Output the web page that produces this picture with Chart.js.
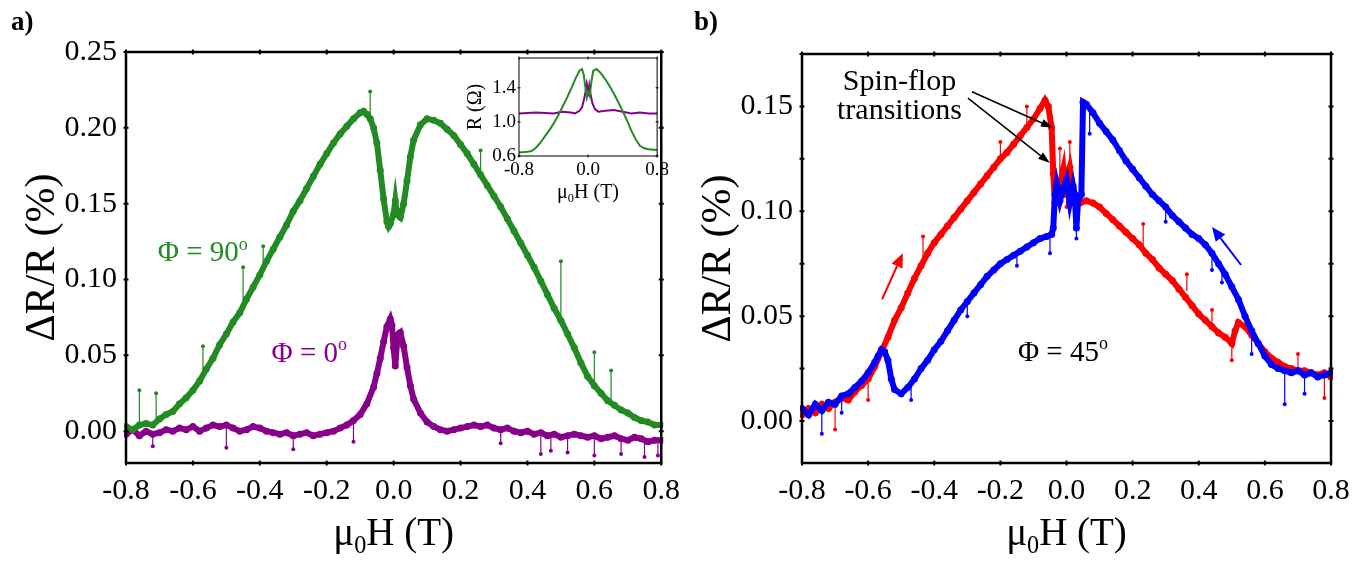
<!DOCTYPE html>
<html>
<head>
<meta charset="utf-8">
<script src="https://cdn.jsdelivr.net/npm/chart.js@4.4.0/dist/chart.umd.min.js"></script>
<style>
  html, body { margin: 0; padding: 0; background: #fff; }
  #wrap { position: relative; width: 1370px; height: 561px; overflow: hidden; }
  .box { position: absolute; }
  .tag { position: absolute; font: bold 27px 'Liberation Serif', serif; line-height: 1; }
</style>
</head>
<body>
<div id="wrap">
  <div class="box" style="left:0;top:0"><canvas id="chartA" width="690" height="561"></canvas></div>
  <div class="box" style="left:690px;top:0"><canvas id="chartB" width="680" height="561"></canvas></div>
  <div class="box" style="left:460px;top:40px"><canvas id="chartInset" width="212" height="180"></canvas></div>
  <div class="tag" style="left:11px;top:8px">a)</div>
  <div class="tag" style="left:694px;top:8px">b)</div>
</div>
<script>
var FONT = "'Liberation Serif', 'Times New Roman', serif";
var GREEN = '#238b23';
var PURPLE = '#86008a';
var RED = '#ff0000';
var BLUE = '#0000ff';

// shared x axis (mu0 H in tesla)
var fieldTicks = [-0.8, -0.6, -0.4, -0.2, 0, 0.2, 0.4, 0.6, 0.8];
var fieldLabels = ['-0.8', '-0.6', '-0.4', '-0.2', '0.0', '0.2', '0.4', '0.6', '0.8'];

// panel a, y axis
var aTicks = [0, 0.05, 0.1, 0.15, 0.2, 0.25];
var aLabels = ['0.00', '0.05', '0.10', '0.15', '0.20', '0.25'];

// panel a, phi = 90 deg
var phi90H = [-0.8,-0.78,-0.76,-0.74,-0.72,-0.7,-0.68,-0.66,-0.64,-0.62,-0.6,-0.58,-0.56,-0.54,-0.52,-0.5,-0.48,-0.46,-0.44,-0.42,-0.4,-0.38,-0.36,-0.34,-0.32,-0.3,-0.28,-0.26,-0.24,-0.22,-0.2,-0.18,-0.16,-0.14,-0.12,-0.1,
  -0.09,-0.08,-0.07,-0.06,-0.05,-0.04,-0.03,-0.02,-0.015,-0.01,
  0,0.005,0.01,0.02,0.03,0.04,0.05,0.06,
  0.08,0.1,0.12,0.14,0.16,0.18,0.2,0.22,0.24,0.26,0.28,0.3,0.32,0.34,0.36,0.38,0.4,0.42,0.44,0.46,0.48,0.5,0.52,0.54,0.56,0.58,0.6,0.62,0.64,0.66,0.68,0.7,0.72,0.74,0.76,0.78,0.8];
var phi90R = [0.003,0.001,0.004,0.005,0.004,0.008,0.011,0.013,0.018,0.022,0.027,0.033,0.041,0.048,0.057,0.064,0.072,0.078,0.087,0.095,0.103,0.112,0.12,0.128,0.136,0.145,0.152,0.16,0.168,0.176,0.183,0.19,0.196,0.201,0.206,0.21,
  0.211,0.209,0.206,0.2,0.19,0.172,0.153,0.138,0.135,0.137,
  0.143,0.152,0.143,0.141,0.15,0.165,0.181,0.192,
  0.202,0.206,0.205,0.203,0.199,0.195,0.189,0.183,0.176,0.169,0.162,0.155,0.148,0.14,0.132,0.124,0.116,0.108,0.099,0.09,0.081,0.073,0.064,0.055,0.045,0.036,0.03,0.025,0.02,0.017,0.014,0.012,0.009,0.007,0.006,0.004,0.004];
var phi90SpikeH = [-0.76, -0.71, -0.57, -0.45, -0.39, -0.07, 0.26, 0.5, 0.6, 0.65];
var phi90SpikeBase = [0.004, 0.007, 0.036, 0.082, 0.106, 0.206, 0.169, 0.073, 0.03, 0.019];
var phi90SpikeTip = [0.027, 0.025, 0.056, 0.108, 0.122, 0.224, 0.185, 0.112, 0.052, 0.04];

// panel a, phi = 0 deg
var phi0H = [-0.8,-0.78,-0.76,-0.74,-0.72,-0.7,-0.68,-0.66,-0.64,-0.62,-0.6,-0.58,-0.56,-0.54,-0.52,-0.5,-0.48,-0.46,-0.44,-0.42,-0.4,-0.38,-0.36,-0.34,-0.32,-0.3,-0.28,-0.26,-0.24,-0.22,-0.2,-0.18,-0.16,-0.14,-0.12,-0.1,
  -0.08,-0.06,-0.05,-0.04,-0.03,-0.02,-0.01,-0.005,0,0.005,0.01,0.015,0.02,0.03,0.04,0.05,0.06,
  0.08,0.1,0.12,0.14,0.16,0.18,0.2,0.22,0.24,0.26,0.28,0.3,0.32,0.34,0.36,0.38,0.4,0.42,0.44,0.46,0.48,0.5,0.52,0.54,0.56,0.58,0.6,0.62,0.64,0.66,0.68,0.7,0.72,0.74,0.76,0.78,0.8];
var phi0R = [-0.002,0.001,-0.003,0,-0.002,-0.001,0.001,0,0.002,0.001,0.003,0,0.002,0.004,0.003,0.004,0.002,0,0.001,0.003,0.002,0,-0.001,-0.002,-0.001,-0.003,-0.002,-0.001,-0.003,-0.002,-0.001,0,0.002,0.004,0.007,0.011,
  0.018,0.029,0.038,0.048,0.059,0.069,0.074,0.07,0.055,0.043,0.058,0.064,0.065,0.056,0.042,0.03,0.021,
  0.012,0.006,0.003,0.001,0,0.001,0.002,0.003,0.004,0.003,0.004,0.002,0.001,0.002,0,-0.001,0,-0.002,-0.001,-0.003,-0.002,-0.004,-0.003,-0.002,-0.003,-0.004,-0.003,-0.005,-0.004,-0.003,-0.005,-0.006,-0.004,-0.005,-0.007,-0.006,-0.006];
var phi0SpikeH = [-0.72, -0.5, -0.3, -0.12, 0.32, 0.44, 0.47, 0.52, 0.6, 0.68, 0.75, 0.79];
var phi0SpikeBase = [-0.002, 0.004, -0.003, 0.007, 0.001, -0.001, -0.002, -0.003, -0.003, -0.005, -0.005, -0.006];
var phi0SpikeTip = [-0.01, -0.011, -0.012, -0.007, -0.008, -0.015, -0.013, -0.014, -0.016, -0.015, -0.017, -0.016];

// inset: R (ohm)
var insetTicksY = [0.6, 1.0, 1.4];
var insetLabelsY = ['0.6', '1.0', '1.4'];
var insetTicksX = [-0.8, 0, 0.8];
var insetLabelsX = ['-0.8', '0.0', '0.8'];
var insetH90 = [-0.8,-0.7,-0.65,-0.6,-0.55,-0.5,-0.45,-0.4,-0.35,-0.3,-0.25,-0.2,-0.15,-0.1,-0.07,-0.05,-0.03,-0.015,0,0.01,0.02,0.04,0.06,0.1,0.15,0.2,0.25,0.3,0.35,0.4,0.45,0.5,0.55,0.6,0.65,0.7,0.8];
var insetR90 = [0.64,0.65,0.66,0.7,0.76,0.83,0.9,0.98,1.07,1.17,1.27,1.38,1.5,1.6,1.62,1.55,1.4,1.28,1.33,1.37,1.32,1.48,1.6,1.62,1.57,1.5,1.42,1.33,1.23,1.13,1.02,0.9,0.8,0.72,0.69,0.68,0.67];
var insetH0 = [-0.8,-0.6,-0.4,-0.3,-0.2,-0.15,-0.1,-0.07,-0.05,-0.03,-0.015,0,0.005,0.015,0.03,0.05,0.08,0.12,0.2,0.3,0.4,0.5,0.6,0.7,0.8];
var insetR0 = [1.1,1.11,1.1,1.12,1.11,1.1,1.13,1.17,1.25,1.35,1.45,1.38,1.3,1.42,1.32,1.22,1.15,1.12,1.13,1.14,1.12,1.1,1.11,1.1,1.1];

// panel b, y axis (minor ticks unlabeled)
var bTicks = [0, 0.025, 0.05, 0.075, 0.1, 0.125, 0.15, 0.175];
var bLabels = ['0.00', '', '0.05', '', '0.10', '', '0.15', ''];

// panel b, phi = 45 deg, sweep up (red)
var upH = [-0.8,-0.78,-0.76,-0.74,-0.72,-0.7,-0.68,-0.66,-0.64,-0.62,-0.6,-0.58,-0.56,-0.54,-0.52,-0.5,-0.48,-0.46,-0.44,-0.42,-0.4,-0.38,-0.36,-0.34,-0.32,-0.3,-0.28,-0.26,-0.24,-0.22,-0.2,-0.18,-0.16,-0.14,-0.12,-0.1,-0.08,
  -0.065,-0.055,-0.045,-0.04,-0.035,-0.03,-0.02,-0.01,-0.005,0,0.01,0.02,0.03,0.04,
  0.06,0.08,0.1,0.12,0.14,0.16,0.18,0.2,0.22,0.24,0.26,0.28,0.3,0.32,0.34,0.36,0.38,0.4,0.42,0.44,0.46,0.48,0.5,
  0.51,0.52,0.54,0.56,0.58,0.6,0.62,0.64,0.66,0.68,0.7,0.72,0.74,0.76,0.78,0.8];
var upR = [0.003,0.006,0.004,0.008,0.006,0.009,0.011,0.01,0.014,0.017,0.02,0.026,0.033,0.04,0.048,0.054,0.061,0.068,0.074,0.08,0.085,0.089,0.093,0.097,0.101,0.105,0.109,0.113,0.117,0.121,0.125,0.128,0.132,0.136,0.14,0.144,0.149,
  0.153,0.15,0.14,0.118,0.104,0.107,0.113,0.12,0.108,0.115,0.121,0.11,0.106,0.104,
  0.105,0.104,0.102,0.099,0.096,0.093,0.09,0.087,0.084,0.08,0.077,0.073,0.07,0.067,0.063,0.059,0.055,0.051,0.048,0.045,0.042,0.04,0.037,
  0.043,0.047,0.045,0.041,0.037,0.033,0.03,0.028,0.026,0.025,0.024,0.024,0.023,0.022,0.023,0.021];
var upSpikeH = [-0.7, -0.6, -0.434, -0.2, -0.12, -0.02, 0, 0.01, 0.232, 0.364, 0.44, 0.5, 0.7, 0.78];
var upSpikeBase = [0.009, 0.02, 0.078, 0.125, 0.14, 0.113, 0.115, 0.121, 0.083, 0.062, 0.045, 0.037, 0.024, 0.023];
var upSpikeTip = [-0.004, 0.01, 0.088, 0.133, 0.15, 0.13, 0.102, 0.133, 0.094, 0.07, 0.053, 0.029, 0.032, 0.011];

// panel b, sweep down (blue)
var downH = [-0.8,-0.78,-0.76,-0.74,-0.72,-0.7,-0.68,-0.66,-0.64,-0.62,-0.6,-0.58,
  -0.57,-0.56,-0.55,-0.54,-0.53,-0.52,
  -0.5,-0.48,-0.46,-0.44,-0.42,-0.4,-0.38,-0.36,-0.34,-0.32,-0.3,-0.28,-0.26,-0.24,-0.22,-0.2,-0.18,-0.16,-0.14,-0.12,-0.1,-0.08,-0.06,
  -0.045,-0.04,-0.035,-0.03,-0.02,-0.01,0,0.01,0.02,0.025,0.03,0.035,0.045,0.05,
  0.06,0.08,0.1,0.12,0.14,0.16,0.18,0.2,0.22,0.24,0.26,0.28,0.3,0.32,0.34,0.36,0.38,0.4,0.42,0.44,0.46,0.48,0.5,0.52,0.54,0.56,0.58,0.6,0.62,0.64,0.66,0.68,0.7,0.72,0.74,0.76,0.78,0.8];
var downR = [0.006,0.003,0.008,0.005,0.009,0.008,0.012,0.013,0.016,0.019,0.023,0.028,
  0.031,0.034,0.033,0.029,0.02,0.015,
  0.013,0.016,0.02,0.025,0.029,0.034,0.038,0.043,0.048,0.053,0.057,0.061,0.065,0.069,0.072,0.075,0.077,0.079,0.081,0.083,0.085,0.087,0.088,
  0.089,0.092,0.108,0.113,0.105,0.111,0.115,0.104,0.112,0.108,0.092,0.105,0.108,0.152,
  0.151,0.147,0.142,0.138,0.134,0.129,0.124,0.12,0.116,0.112,0.108,0.105,0.102,0.098,0.095,0.092,0.089,0.087,0.084,0.08,0.075,0.07,0.064,0.058,0.05,0.043,0.037,0.031,0.027,0.025,0.024,0.023,0.024,0.022,0.023,0.021,0.022,0.023];
var downSpikeH = [-0.74, -0.68, -0.47, -0.3, -0.15, -0.05, 0.03, 0.07, 0.3, 0.44, 0.47, 0.56, 0.66, 0.72];
var downSpikeBase = [0.005, 0.012, 0.018, 0.057, 0.081, 0.088, 0.105, 0.149, 0.102, 0.08, 0.073, 0.043, 0.024, 0.022];
var downSpikeTip = [-0.006, 0.004, 0.01, 0.05, 0.074, 0.08, 0.087, 0.137, 0.095, 0.072, 0.066, 0.032, 0.008, 0.013];

function pts(xs, ys) {
  return xs.map(function (x, i) { return { x: x, y: ys[i] }; });
}
function spikes(xs, base, tip) {
  var out = [];
  xs.forEach(function (x, i) {
    out.push({ x: x, y: base[i] }, { x: x, y: tip[i] }, { x: x, y: null });
  });
  return out;
}
function band(data, color, width, radius) {
  return { data: data, borderColor: color, backgroundColor: color, borderWidth: width,
    pointRadius: radius, pointBorderWidth: 0, pointHoverRadius: 0, tension: 0, clip: 2 };
}
function spikeSet(data, color) {
  return { data: data, borderColor: color, backgroundColor: color, borderWidth: 1.2, spanGaps: false,
    pointRadius: function (c) { return c.dataIndex % 3 === 1 ? 2 : 0; }, pointBorderWidth: 0, clip: 2 };
}

function axis(tickVals, labels, size, pad, fit, isX) {
  return {
    type: 'linear',
    min: tickVals[0], max: tickVals[tickVals.length - 1],
    afterBuildTicks: function (s) { s.ticks = tickVals.map(function (v) { return { value: v }; }); },
    afterFit: function (s) { if (isX) { s.height = fit; } else { s.width = fit; } },
    grid: { display: false, drawTicks: false },
    border: { display: false },
    ticks: { color: '#000', font: { family: FONT, size: size }, padding: pad,
      maxRotation: 0, autoSkip: false,
      callback: function (v, i) { return labels[i]; } }
  };
}

// text with sub/superscript parts, y is the baseline
function richText(ctx, parts, x, y, size, color, align) {
  var w = 0;
  parts.forEach(function (p) {
    ctx.font = (p[1] ? size * 0.62 : size) + 'px ' + FONT;
    w += ctx.measureText(p[0]).width;
  });
  var cx = align === 'center' ? x - w / 2 : x;
  ctx.fillStyle = color;
  ctx.textAlign = 'left';
  ctx.textBaseline = 'alphabetic';
  parts.forEach(function (p) {
    var s = p[1] ? size * 0.62 : size;
    var dy = p[1] === 'sub' ? size * 0.2 : (p[1] === 'sup' ? -size * 0.4 : 0);
    ctx.font = s + 'px ' + FONT;
    ctx.fillText(p[0], cx, y + dy);
    cx += ctx.measureText(p[0]).width;
  });
}

function framePlugin(width, tick, tickWidth) {
  return {
    id: 'frame',
    afterDatasetsDraw: function (chart) {
      var ctx = chart.ctx, a = chart.chartArea;
      var sx = chart.scales.x, sy = chart.scales.y;
      ctx.save();
      ctx.strokeStyle = '#000';
      ctx.lineWidth = tickWidth;
      ctx.beginPath();
      sx.ticks.forEach(function (t) {
        var px = sx.getPixelForValue(t.value);
        ctx.moveTo(px, a.bottom - tick); ctx.lineTo(px, a.bottom + tick);
        ctx.moveTo(px, a.top - tick); ctx.lineTo(px, a.top + tick);
      });
      sy.ticks.forEach(function (t) {
        var py = sy.getPixelForValue(t.value);
        ctx.moveTo(a.left - tick, py); ctx.lineTo(a.left + tick, py);
        ctx.moveTo(a.right - tick, py); ctx.lineTo(a.right + tick, py);
      });
      ctx.stroke();
      ctx.lineWidth = width;
      ctx.strokeRect(a.left, a.top, a.right - a.left, a.bottom - a.top);
      ctx.restore();
    }
  };
}

function notesPlugin(cfg) {
  return {
    id: 'notes',
    afterDraw: function (chart) {
      var ctx = chart.ctx, a = chart.chartArea;
      var sx = chart.scales.x, sy = chart.scales.y;
      ctx.save();
      // axis titles
      richText(ctx, cfg.xTitle, (a.left + a.right) / 2, a.bottom + cfg.xTitleDy, cfg.titleSize, '#000', 'center');
      ctx.save();
      ctx.translate(a.left - cfg.yTitleDx, (a.top + a.bottom) / 2);
      ctx.rotate(-Math.PI / 2);
      richText(ctx, cfg.yTitle, 0, cfg.yTitleSize * 0.33, cfg.yTitleSize, '#000', 'center');
      ctx.restore();
      (cfg.texts || []).forEach(function (t) {
        richText(ctx, t.parts, sx.getPixelForValue(t.h), sy.getPixelForValue(t.r), t.size, t.color, t.align);
      });
      (cfg.arrows || []).forEach(function (ar) {
        var x0 = sx.getPixelForValue(ar.from[0]), y0 = sy.getPixelForValue(ar.from[1]);
        var x1 = sx.getPixelForValue(ar.to[0]), y1 = sy.getPixelForValue(ar.to[1]);
        var ang = Math.atan2(y1 - y0, x1 - x0);
        var hl = ar.head[0], hw = ar.head[1];
        var bx = x1 - hl * Math.cos(ang), by = y1 - hl * Math.sin(ang);
        ctx.strokeStyle = ar.color;
        ctx.fillStyle = ar.color;
        ctx.lineWidth = ar.width;
        ctx.beginPath();
        ctx.moveTo(x0, y0);
        ctx.lineTo(bx, by);
        ctx.stroke();
        ctx.beginPath();
        ctx.moveTo(x1, y1);
        ctx.lineTo(bx + hw * Math.sin(ang), by - hw * Math.cos(ang));
        ctx.lineTo(bx - hw * Math.sin(ang), by + hw * Math.cos(ang));
        ctx.closePath();
        ctx.fill();
      });
      ctx.restore();
    }
  };
}

var baseOptions = function (padding, xAxis, yAxis) {
  return {
    responsive: false, animation: false, events: [],
    layout: { padding: padding },
    plugins: { legend: { display: false }, tooltip: { enabled: false } },
    scales: { x: xAxis, y: yAxis }
  };
};

var muH = [['\u03bc'], ['0', 'sub'], ['H (T)']];
var dRR = [['\u0394R/R (%)']];

// panel a
new Chart(document.getElementById('chartA'), {
  type: 'line',
  data: { datasets: [
    spikeSet(spikes(phi90SpikeH, phi90SpikeBase, phi90SpikeTip), GREEN),
    band(pts(phi90H, phi90R), GREEN, 6, 3.5),
    spikeSet(spikes(phi0SpikeH, phi0SpikeBase, phi0SpikeTip), PURPLE),
    band(pts(phi0H, phi0R), PURPLE, 6, 3.5)
  ] },
  options: baseOptions({ left: 0, right: 23, top: 52, bottom: 0 },
    axis(fieldTicks, fieldLabels, 30, 10, 98, true),
    Object.assign(axis(aTicks, aLabels, 30, 9, 126, false), { min: -0.021 })),
  plugins: [framePlugin(2.5, 2.5, 2), notesPlugin({
    xTitle: muH, yTitle: dRR, titleSize: 39, yTitleSize: 42, xTitleDy: 82, yTitleDx: 86,
    texts: [
      { h: -0.705, r: 0.112, parts: [['\u03a6 = 90'], ['o', 'sup']], size: 29, color: GREEN, align: 'left' },
      { h: -0.365, r: 0.0456, parts: [['\u03a6 = 0'], ['o', 'sup']], size: 29, color: PURPLE, align: 'left' }
    ]
  })]
});

// inset of panel a
new Chart(document.getElementById('chartInset'), {
  type: 'line',
  data: { datasets: [
    band(pts(insetH90, insetR90), GREEN, 2, 0),
    band(pts(insetH0, insetR0), PURPLE, 2, 0)
  ] },
  options: baseOptions({ left: 0, right: 14, top: 18, bottom: 0 },
    axis(insetTicksX, insetLabelsX, 19, 3, 64, true),
    Object.assign(axis(insetTicksY, insetLabelsY, 19, 3, 59, false), { max: 1.75 })),
  plugins: [framePlugin(1, 1.5, 1), notesPlugin({
    xTitle: muH, yTitle: [['R (\u03a9)']], titleSize: 20, yTitleSize: 20, xTitleDy: 42, yTitleDx: 45
  })]
});

// panel b
new Chart(document.getElementById('chartB'), {
  type: 'line',
  data: { datasets: [
    spikeSet(spikes(downSpikeH, downSpikeBase, downSpikeTip), BLUE),
    band(pts(downH, downR), BLUE, 6, 3.5),
    spikeSet(spikes(upSpikeH, upSpikeBase, upSpikeTip), RED),
    band(pts(upH, upR), RED, 6, 3.5)
  ] },
  options: baseOptions({ left: 0, right: 39, top: 54, bottom: 0 },
    axis(fieldTicks, fieldLabels, 30, 10, 98, true),
    Object.assign(axis(bTicks, bLabels, 30, 9, 112, false), { min: -0.02 })),
  plugins: [framePlugin(2.5, 2.5, 2), notesPlugin({
    xTitle: muH, yTitle: dRR, titleSize: 39, yTitleSize: 42, xTitleDy: 82, yTitleDx: 86,
    texts: [
      { h: -0.505, r: 0.158, parts: [['Spin-flop']], size: 30, color: '#000', align: 'center' },
      { h: -0.505, r: 0.144, parts: [['transitions']], size: 30, color: '#000', align: 'center' },
      { h: -0.147, r: 0.0286, parts: [['\u03a6 = 45'], ['o', 'sup']], size: 29, color: '#000', align: 'left' }
    ],
    arrows: [
      { from: [-0.286, 0.157], to: [-0.041, 0.1398], color: '#000', width: 1.5, head: [12, 4] },
      { from: [-0.298, 0.154], to: [-0.05, 0.123], color: '#000', width: 1.5, head: [12, 4] },
      { from: [-0.558, 0.058], to: [-0.495, 0.08], color: RED, width: 2, head: [14, 6] },
      { from: [0.528, 0.0744], to: [0.44, 0.0925], color: BLUE, width: 2, head: [14, 6] }
    ]
  })]
});
</script>
</body>
</html>
